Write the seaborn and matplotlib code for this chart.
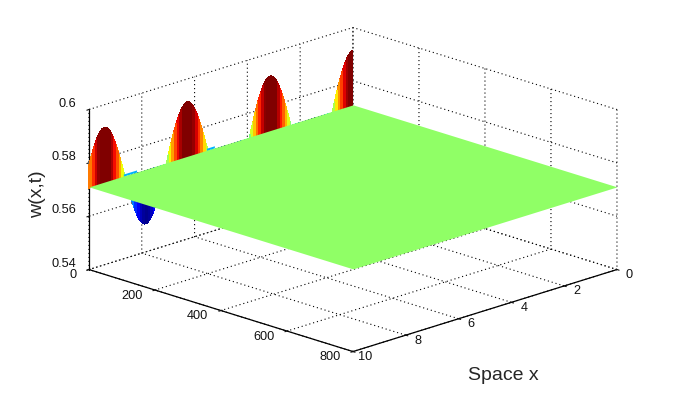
import numpy as np
import seaborn as sns
import matplotlib
matplotlib.use('Agg')
import matplotlib.pyplot as plt

# values
space_x = [i / 10 for i in range(101)]
# w(x,t) along the t=0 edge, one value per space_x
w_start = [0.5915, 0.5911, 0.5899, 0.5879, 0.5853, 0.5821, 0.5784, 0.5745, 0.5704, 0.5664,
           0.5625, 0.5590, 0.5559, 0.5535, 0.5517, 0.5507, 0.5505, 0.5512, 0.5526, 0.5548,
           0.5576, 0.5610, 0.5647, 0.5687, 0.5728, 0.5768, 0.5806, 0.5840, 0.5869, 0.5892,
           0.5907, 0.5915, 0.5914, 0.5905, 0.5888, 0.5865, 0.5835, 0.5800, 0.5761, 0.5721,
           0.5680, 0.5641, 0.5604, 0.5571, 0.5544, 0.5523, 0.5510, 0.5505, 0.5508, 0.5519,
           0.5538, 0.5564, 0.5595, 0.5631, 0.5670, 0.5711, 0.5752, 0.5791, 0.5826, 0.5857,
           0.5883, 0.5901, 0.5912, 0.5915, 0.5909, 0.5896, 0.5875, 0.5848, 0.5815, 0.5778,
           0.5738, 0.5697, 0.5657, 0.5619, 0.5584, 0.5554, 0.5531, 0.5515, 0.5506, 0.5506,
           0.5514, 0.5529, 0.5552, 0.5581, 0.5615, 0.5653, 0.5694, 0.5735, 0.5775, 0.5812,
           0.5845, 0.5873, 0.5895, 0.5909, 0.5915, 0.5913, 0.5902, 0.5884, 0.5860, 0.5829, 0.5794]
w_level = 0.571
time_t = [0, 800]

# small cyan bits that show above the flat part
lip_x = [[8.2, 8.7], [5.25, 5.55]]
lip_top = 0.5718
lip_colour_w = 0.562

x_ticks = [0, 2, 4, 6, 8, 10]
t_ticks = [0, 200, 400, 600, 800]
w_ticks = [0.54, 0.56, 0.58, 0.6]
w_tick_labels = ['0.54', '0.56', '0.58', '0.6']

sns.set_style('white')
plt.rcParams['font.family'] = ['Liberation Sans', 'DejaVu Sans']

jet = plt.get_cmap('jet')
norm = plt.Normalize(0.55, 0.59)

fig = plt.figure(figsize=(6.81, 3.93), dpi=100)
ax = fig.add_axes([65.4 / 681, -84.1 / 393, 560 / 681, 560 / 393],
                  projection='3d', proj_type='ortho', computed_zorder=False)
ax.view_init(elev=18.1, azim=45)
ax.set_box_aspect((1, 1, 0.4509), zoom=0.9607)
ax.set_xlim(0, 10, view_margin=0)
ax.set_ylim(0, 800, view_margin=0)
ax.set_zlim(0.54, 0.6, view_margin=0)

x = np.array(space_x)
w0 = np.array(w_start)

# wall of the start profile, one colour per strip
wall_x = np.vstack([x, x])
wall_t = np.zeros_like(wall_x)
wall_w = np.vstack([w0, np.full_like(w0, w_level - 0.0005)])
wall_c = jet(norm((w0[:-1] + w0[1:]) / 2))[np.newaxis, :, :]
ax.plot_surface(wall_x, wall_t, wall_w, facecolors=wall_c, rstride=1, cstride=1,
                shade=False, linewidth=0, antialiased=False, zorder=2)

for lip in lip_x:
    lx, lw = np.meshgrid(lip, [w_level, lip_top])
    ax.plot_surface(lx, np.zeros_like(lx), lw, color=jet(norm(lip_colour_w)), shade=False,
                    linewidth=0, antialiased=False, zorder=2)

# flat part
plane_x, plane_t = np.meshgrid([space_x[0], space_x[-1]], time_t)
plane_w = np.full_like(plane_x, w_level, dtype=float)
ax.plot_surface(plane_x, plane_t, plane_w, color=jet(norm(w_level)), shade=False,
                linewidth=0, antialiased=False, zorder=3)

ax.set_xticks(x_ticks)
ax.set_yticks(t_ticks)
ax.set_zticks(w_ticks)
ax.set_zticklabels(w_tick_labels)
ax.tick_params(labelsize=9.2, colors='#111111', pad=2)
ax.zaxis.set_tick_params(pad=-3)
plt.setp(ax.get_xticklabels(), va='bottom')
plt.setp(ax.get_yticklabels(), va='bottom', ha='right')
plt.setp(ax.get_zticklabels(), va='bottom', ha='right')

for axis in (ax.xaxis, ax.yaxis, ax.zaxis):
    axis.set_pane_color((1, 1, 1, 1))
    axis.pane.set_edgecolor('none')
    axis.line.set_color('black')
    axis.line.set_linewidth(0.9)
    axis._axinfo['grid'].update(color='black', linestyle=(0, (1, 2.6)), linewidth=0.8)
    axis._axinfo['tick'].update(inward_factor=0.1, outward_factor=0.05)

fig.text(503 / 681, 1 - 376 / 393, 'Space x', fontsize=14, ha='center', va='center')
fig.text(38 / 681, 1 - 194 / 393, 'w(x,t)', fontsize=14, rotation=90, ha='center', va='center')

fig.savefig('out.png', dpi=100)
